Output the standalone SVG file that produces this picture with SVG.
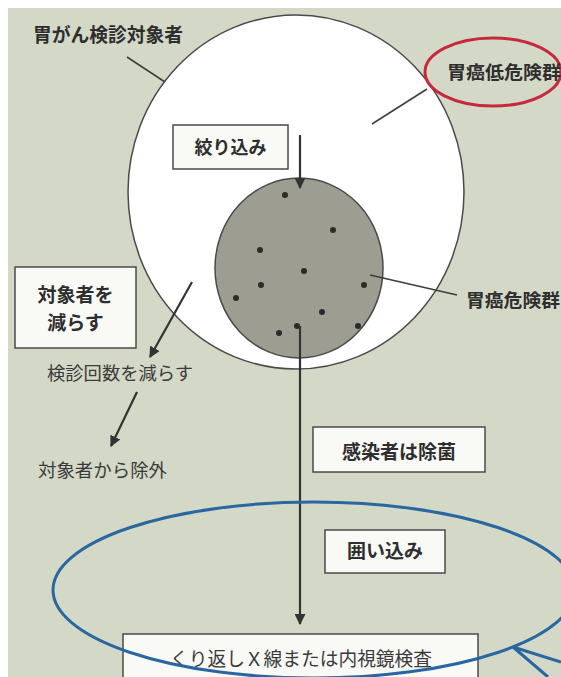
<svg xmlns="http://www.w3.org/2000/svg" width="561" height="677" viewBox="0 0 561 677">
<defs>
<style>
.jp{font-family:"Noto Sans CJK JP","Noto Sans",sans-serif;fill:#2e2e2e}
.b{font-weight:bold}
.n{font-weight:normal;fill:#3a3a3a}
.box{fill:#f9f9f6;stroke:#4a4a4a;stroke-width:1.5}
.ln{stroke:#3d3d3d;stroke-width:1.5;fill:none}
.ar{stroke:#333;stroke-width:2.2;fill:none;marker-end:url(#ah)}
.dot{fill:#2b2b2b}
</style>
<marker id="ah" viewBox="0 0 10 10" refX="9" refY="5" markerWidth="5" markerHeight="5" orient="auto" markerUnits="strokeWidth">
<path d="M0,0 L10,5 L0,10 z" fill="#333"/>
</marker>
</defs>
<rect x="0" y="0" width="561" height="677" fill="#ffffff"/>
<rect x="8" y="8" width="553" height="669" fill="#d4d8c7"/>

<g id="outer-circle">
<ellipse cx="296" cy="192" rx="168" ry="177" fill="#ffffff" stroke="#4a4a4a" stroke-width="1.5"/>
</g>
<g id="inner-circle">
<ellipse cx="299" cy="268" rx="84" ry="90" fill="#9d9e91" stroke="#4a4a4a" stroke-width="1.5"/>
<circle class="dot" cx="285" cy="195" r="3"/>
<circle class="dot" cx="333" cy="230" r="3"/>
<circle class="dot" cx="260" cy="250" r="3"/>
<circle class="dot" cx="304" cy="271" r="3"/>
<circle class="dot" cx="261" cy="285" r="3"/>
<circle class="dot" cx="364" cy="285" r="3"/>
<circle class="dot" cx="236" cy="298" r="3"/>
<circle class="dot" cx="322" cy="312" r="3"/>
<circle class="dot" cx="297" cy="326" r="3"/>
<circle class="dot" cx="279" cy="333" r="3"/>
<circle class="dot" cx="358" cy="326" r="3"/>
</g>

<g id="label-target">
<text class="jp b" x="33" y="42" font-size="19" textLength="150" lengthAdjust="spacingAndGlyphs">胃がん検診対象者</text>
</g>
<g id="label-low-risk">
<ellipse cx="493" cy="72" rx="68" ry="34" fill="none" stroke="#c42a3c" stroke-width="3"/>
<text class="jp b" x="447" y="79" font-size="18.5" textLength="114" lengthAdjust="spacingAndGlyphs">胃癌低危険群</text>
</g>
<g id="label-high-risk">
<text class="jp b" x="466" y="307" font-size="18.5" textLength="94" lengthAdjust="spacingAndGlyphs">胃癌危険群</text>
</g>

<g id="box-narrow">
<rect class="box" x="173" y="125" width="115" height="44"/>
<text class="jp b" x="230.5" y="154" font-size="18" text-anchor="middle">絞り込み</text>
</g>
<g id="box-reduce">
<rect class="box" x="15" y="267" width="121" height="81"/>
<text class="jp b" x="75.5" y="302" font-size="19" text-anchor="middle">対象者を</text>
<text class="jp b" x="75.5" y="330" font-size="19" text-anchor="middle">減らす</text>
</g>
<g id="text-reduce-count">
<text class="jp n" x="47" y="380" font-size="18" textLength="146" lengthAdjust="spacingAndGlyphs">検診回数を減らす</text>
</g>
<g id="text-exclude">
<text class="jp n" x="38" y="477" font-size="18" textLength="129" lengthAdjust="spacingAndGlyphs">対象者から除外</text>
</g>
<g id="box-eradicate">
<rect class="box" x="313" y="427" width="172" height="45"/>
<text class="jp b" x="399" y="459" font-size="19" text-anchor="middle">感染者は除菌</text>
</g>
<g id="box-enclose">
<rect class="box" x="325" y="530" width="120" height="43"/>
<text class="jp b" x="385" y="558" font-size="19" text-anchor="middle">囲い込み</text>
</g>
<g id="box-repeat">
<rect class="box" x="123" y="634" width="355" height="50"/>
<text class="jp n" x="301" y="666" font-size="19" text-anchor="middle" textLength="262" lengthAdjust="spacingAndGlyphs">くり返しＸ線または内視鏡検査</text>
</g>

<g id="connectors">
<line class="ln" x1="127" y1="57" x2="165" y2="82"/>
<line class="ln" x1="372" y1="124" x2="427" y2="89"/>
<line class="ln" x1="370" y1="275" x2="457" y2="295"/>
<line class="ar" x1="300" y1="135" x2="300" y2="188"/>
<line class="ar" x1="192" y1="282" x2="150" y2="357"/>
<line class="ar" x1="137" y1="392" x2="111" y2="446"/>
<line class="ar" x1="300" y1="326" x2="300" y2="624"/>
<ellipse cx="314" cy="590" rx="261" ry="88" fill="none" stroke="#2a67a0" stroke-width="3"/>
<path d="M513,647 L561,662 M513,647 L548,677" fill="none" stroke="#2a67a0" stroke-width="3"/>
</g>
</svg>
